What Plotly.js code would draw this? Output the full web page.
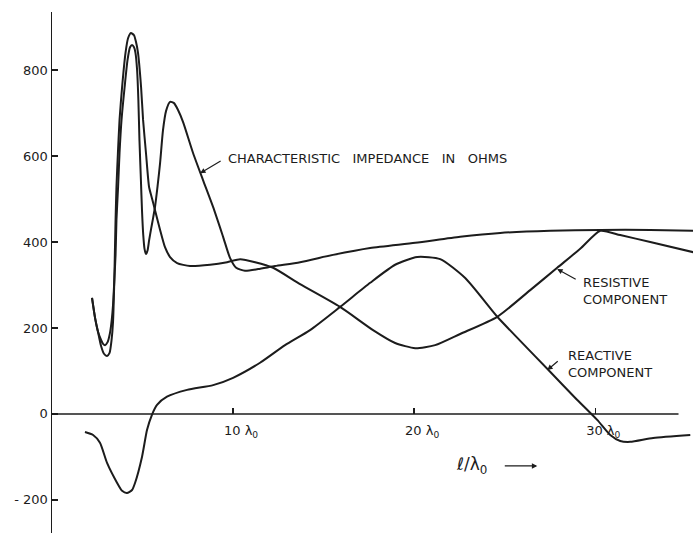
<!DOCTYPE html>
<html>
<head>
<meta charset="utf-8">
<script src="https://cdn.plot.ly/plotly-3.0.1.min.js"></script>
<style>
  html, body { margin: 0; padding: 0; background: #ffffff; }
  #chart { width: 698px; height: 535px; }
</style>
</head>
<body>
<div id="chart"></div>
<script>
// Line length in free-space wavelengths (l / lambda0) and impedance in ohms.

// Characteristic impedance |Z0|
const zX = [2.21, 2.38, 2.54, 2.71, 2.82, 2.93, 3.07, 3.20, 3.30, 3.37, 3.51, 3.56, 3.65, 3.73, 3.84, 4.01, 4.17, 4.31, 4.42, 4.53, 4.61, 4.70, 4.77, 4.83, 4.91, 4.97, 5.04, 5.11, 5.19, 5.28, 5.36, 5.47, 5.58, 5.69, 5.83, 5.97, 6.13, 6.30, 6.52, 6.74, 6.96, 7.24, 7.79, 8.34, 8.90, 9.45, 9.83, 10.17, 10.66, 11.38, 12.32, 13.70, 15.52, 17.57, 20.06, 22.54, 24.75, 27.51, 30.28, 33.04, 35.41];
const zY = [270, 223, 191, 172, 163, 160, 167, 188, 219, 253, 370, 451, 528, 607, 684, 760, 823, 853, 858, 853, 840, 800, 730, 637, 544, 474, 416, 384, 372, 381, 403, 430, 455, 482, 530, 584, 660, 705, 726, 723, 707, 679, 607, 544, 481, 412, 363, 340, 333, 337, 344, 353, 370, 386, 398, 412, 421, 426, 428, 428, 426];

// Resistive component
const rX = [2.21, 2.38, 2.54, 2.71, 2.87, 3.04, 3.18, 3.29, 3.37, 3.43, 3.47, 3.51, 3.56, 3.64, 3.73, 3.87, 4.06, 4.20, 4.36, 4.53, 4.64, 4.75, 4.92, 5.03, 5.19, 5.36, 5.52, 5.69, 5.97, 6.24, 6.52, 6.91, 7.62, 8.73, 9.67, 10.39, 11.22, 12.21, 13.70, 15.91, 17.73, 18.95, 20.06, 21.16, 22.54, 24.59, 26.41, 27.90, 29.17, 30.28, 31.38, 33.04, 35.64];
const rY = [270, 223, 191, 158, 140, 135, 142, 172, 214, 293, 370, 451, 528, 607, 684, 760, 840, 874, 886, 881, 865, 840, 760, 684, 607, 528, 502, 474, 428, 388, 365, 351, 344, 347, 353, 360, 353, 340, 302, 249, 195, 165, 153, 160, 186, 226, 288, 340, 384, 426, 416, 400, 374];

// Reactive component
const xX = [1.82, 2.27, 2.65, 3.04, 3.59, 3.87, 4.14, 4.42, 4.59, 4.97, 5.25, 5.52, 5.80, 6.35, 7.46, 8.90, 10.00, 11.49, 12.87, 14.25, 15.91, 17.57, 18.95, 20.17, 21.44, 22.82, 24.59, 25.86, 27.51, 28.90, 30.11, 30.83, 31.38, 31.93, 33.20, 35.25];
const xY = [-42, -49, -67, -114, -160, -179, -184, -177, -160, -100, -37, -2, 21, 40, 56, 67, 84, 119, 160, 195, 249, 305, 347, 365, 360, 316, 226, 170, 98, 37, -14, -49, -63, -65, -56, -49];

// Axis ticks
const xTickVals = [10, 20, 30];
const xTickText = ['10 λ<sub>0</sub>', '20 λ<sub>0</sub>', '30 λ<sub>0</sub>'];
const yTickVals = [-200, 0, 200, 400, 600, 800];
const yTickText = ['- 200', '0', '200', '400', '600', '800'];

const INK = '#1c1c1c';
const FONT = 'DejaVu Sans, sans-serif';

function curve(xs, ys, name) {
  return {
    type: 'scatter', mode: 'lines', name: name, x: xs, y: ys,
    line: { color: INK, width: 2, shape: 'spline', smoothing: 0.6 },
    hoverinfo: 'skip'
  };
}

const data = [
  curve(zX, zY, 'Characteristic impedance'),
  curve(rX, rY, 'Resistive component'),
  curve(xX, xY, 'Reactive component')
];

const yMin = -277, yMax = 935;

// Plain text placed with its left edge at (x, y).
function label(text, x, y, size) {
  return {
    x: x, y: y, xref: 'x', yref: 'y', xanchor: 'left', yanchor: 'middle', align: 'left',
    text: text, showarrow: false,
    font: { family: FONT, size: size || 13, color: INK }
  };
}

// Short leader arrow whose head touches (x, y); its tail is (ax, ay) pixels away.
function pointer(x, y, ax, ay) {
  return {
    x: x, y: y, xref: 'x', yref: 'y', text: '', showarrow: true,
    ax: ax, ay: ay, arrowhead: 2, arrowsize: 0.9, arrowwidth: 1.2, arrowcolor: INK
  };
}

const gap = ' \u00A0\u00A0';
const layout = {
  width: 698, height: 535,
  margin: { l: 52, r: 5, t: 12, b: 2 },
  paper_bgcolor: '#ffffff', plot_bgcolor: '#ffffff',
  showlegend: false,
  font: { family: FONT, color: INK, size: 13 },
  xaxis: {
    range: [0, 35.4], anchor: 'free', position: (0 - yMin) / (yMax - yMin),
    showline: false, zeroline: false, showgrid: false,
    ticks: 'inside', ticklen: 6, tickwidth: 1.4, tickcolor: INK,
    tickvals: xTickVals, ticktext: xTickText, ticklabelshift: 8, ticklabelstandoff: 7,
    tickfont: { family: FONT, size: 13, color: INK }
  },
  yaxis: {
    range: [yMin, yMax], showline: true, linecolor: INK, linewidth: 1.5,
    zeroline: false, showgrid: false,
    ticks: 'inside', ticklen: 6, tickwidth: 1.4, tickcolor: INK,
    tickvals: yTickVals, ticktext: yTickText, ticklabelstandoff: 0,
    tickfont: { family: FONT, size: 13, color: INK }
  },
  shapes: [
    { type: 'line', xref: 'x', yref: 'y', x0: 0, x1: 34.6, y0: 0, y1: 0,
      line: { color: INK, width: 1.5 } }
  ],
  annotations: [
    label('CHARACTERISTIC' + gap + 'IMPEDANCE' + gap + 'IN' + gap + 'OHMS', 9.61, 595),
    pointer(8.18, 560, 22, -13),
    label('RESISTIVE<br>COMPONENT', 29.23, 285),
    pointer(27.9, 337, 20, 11),
    label('REACTIVE<br>COMPONENT', 28.4, 117),
    pointer(27.35, 102, 12, -10),
    Object.assign(label('ℓ/λ<sub>0</sub>', 23.15, -119, 17), { xanchor: 'center' }),
    pointer(26.8, -121, -34, 0)
  ]
};

Plotly.newPlot('chart', data, layout, { displayModeBar: false, staticPlot: true });
</script>
</body>
</html>
